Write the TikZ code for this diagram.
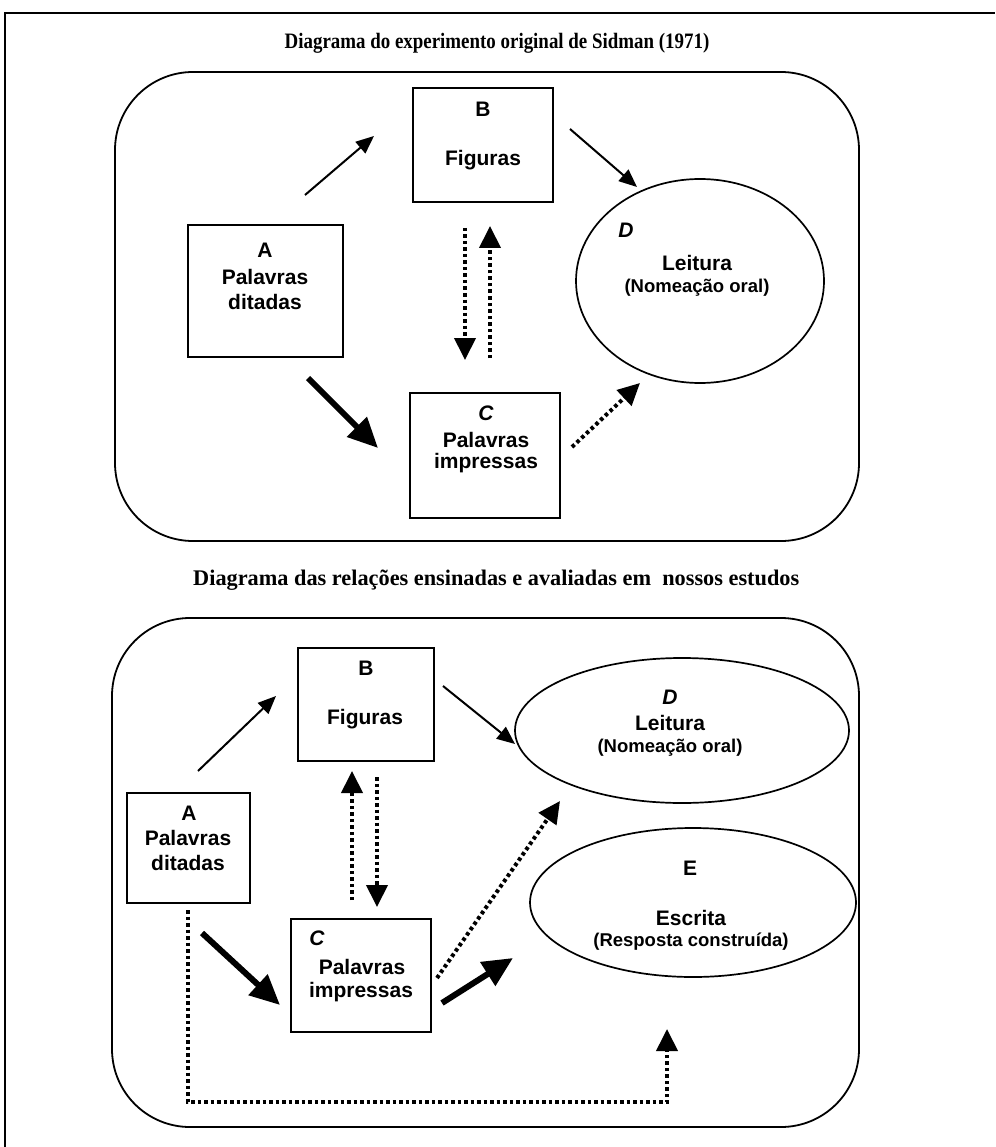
\documentclass[tikz,border=0pt]{standalone}
\usepackage{fontspec}
\setmainfont{Liberation Serif}
\setsansfont{Liberation Sans}
\newfontfamily\condserif[FakeStretch=0.86]{Liberation Serif}
\usetikzlibrary{arrows.meta,shapes.geometric}
\begin{document}
\begin{tikzpicture}[x=1pt,y=-1pt,
  frame/.style={line width=1.8pt},
  panel/.style={draw,line width=1.8pt,rounded corners=78pt},
  box/.style={draw,rectangle,line width=1.7pt,inner sep=0pt},
  oval/.style={draw,ellipse,line width=1.7pt,inner sep=0pt},
  lbl/.style={font=\sffamily\bfseries\fontsize{21}{21}\selectfont,inner sep=0pt},
  lbli/.style={font=\sffamily\bfseries\itshape\fontsize{21}{21}\selectfont,inner sep=0pt},
  sml/.style={font=\sffamily\bfseries\fontsize{18.5}{18.5}\selectfont,inner sep=0pt},
  ttla/.style={font=\condserif\bfseries\fontsize{22}{22}\selectfont,inner sep=0pt},
  ttlb/.style={font=\rmfamily\bfseries\fontsize{22.3}{22.3}\selectfont,inner sep=0pt},
  thinarr/.style={line width=2pt,-{Triangle[length=18pt,width=15pt]}},
  thickarr/.style={line width=6pt,-{Triangle[length=30pt,width=27pt]}},
  dotarr/.style={line width=4pt,dash pattern=on 3.5pt off 3pt,-{Triangle[length=22pt,width=21pt]}}
]
\useasboundingbox (0,0) rectangle (995,1147);
% outer frame (only left and top visible)
\draw[frame] (5,1147) -- (5,13) -- (995,13);

% ================= TOP DIAGRAM =================
\node[ttla] (title1) at (497,43) {Diagrama do experimento original de Sidman (1971)};
\draw[panel] (115,72) rectangle (859,541);

\node[box,minimum width=155pt,minimum height=132pt] (A1) at (265.5,291) {};
\node[box,minimum width=140pt,minimum height=114pt] (B1) at (483,145) {};
\node[box,minimum width=150pt,minimum height=125pt] (C1) at (485,455.5) {};
\node[oval,minimum width=248pt,minimum height=204pt] (D1) at (700,281) {};

\node[lbl] (A1a) at (265,250) {A};
\node[lbl] (A1b) at (265,277) {Palavras};
\node[lbl] (A1c) at (265,302) {ditadas};
\node[lbl] (B1a) at (483,109) {B};
\node[lbl] (B1b) at (483,160) {Figuras};
\node[lbli] (C1a) at (486,413) {C};
\node[lbl] (C1b) at (486,440) {Palavras};
\node[lbl] (C1c) at (486,463) {impressas};
\node[lbli] (D1a) at (626,230) {D};
\node[lbl] (D1b) at (697,263) {Leitura};
\node[sml] (D1c) at (697,288) {(Nomeação oral)};

\coordinate (ab1s) at (305,195);  \coordinate (ab1e) at (374,136);
\coordinate (bd1s) at (570,129);  \coordinate (bd1e) at (637,187);
\coordinate (bc1s) at (465,228);  \coordinate (bc1e) at (465,360);
\coordinate (cb1s) at (490,358);  \coordinate (cb1e) at (490,226);
\coordinate (ac1s) at (308,378);  \coordinate (ac1e) at (378,448);
\coordinate (cd1s) at (572,447);  \coordinate (cd1e) at (640,383);

\draw[thinarr] (ab1s) -- (ab1e);
\draw[thinarr] (bd1s) -- (bd1e);
\draw[dotarr] (bc1s) -- (bc1e);
\draw[dotarr] (cb1s) -- (cb1e);
\draw[thickarr] (ac1s) -- (ac1e);
\draw[dotarr] (cd1s) -- (cd1e);

% ================= BOTTOM DIAGRAM =================
\node[ttlb,anchor=west] (title2) at (193,580) {Diagrama das relações ensinadas e avaliadas em\ \ nossos estudos};
\draw[panel] (112,618) rectangle (859,1127);

\node[box,minimum width=123pt,minimum height=110pt] (A2) at (188.5,848) {};
\node[box,minimum width=136pt,minimum height=113pt] (B2) at (366,704.5) {};
\node[box,minimum width=140pt,minimum height=113pt] (C2) at (361,975.5) {};
\node[oval,minimum width=334pt,minimum height=145pt] (D2) at (682,730.5) {};
\node[oval,minimum width=326pt,minimum height=149pt] (E2) at (693,902.5) {};

\node[lbl] (A2a) at (189,813) {A};
\node[lbl] (A2b) at (188,838) {Palavras};
\node[lbl] (A2c) at (188,863) {ditadas};
\node[lbl] (B2a) at (366,668) {B};
\node[lbl] (B2b) at (365,719) {Figuras};
\node[lbli] (C2a) at (317,938) {C};
\node[lbl] (C2b) at (362,967) {Palavras};
\node[lbl] (C2c) at (361,992) {impressas};
\node[lbli] (D2a) at (670,697) {D};
\node[lbl] (D2b) at (670,723) {Leitura};
\node[sml] (D2c) at (670,748) {(Nomeação oral)};
\node[lbl] (E2a) at (690,868) {E};
\node[lbl] (E2b) at (691,918) {Escrita};
\node[sml] (E2c) at (691,942) {(Resposta construída)};

\coordinate (ab2s) at (198,771);  \coordinate (ab2e) at (276,696);
\coordinate (bd2s) at (443,686);  \coordinate (bd2e) at (515,744);
\coordinate (cb2s) at (352,900);  \coordinate (cb2e) at (352,771);
\coordinate (bc2s) at (377,777);  \coordinate (bc2e) at (377,907);
\coordinate (ac2s) at (202,933);  \coordinate (ac2e) at (280,1005);
\coordinate (cd2s) at (437,978);  \coordinate (cd2e) at (560,801);
\coordinate (ce2s) at (442,1003); \coordinate (ce2e) at (513,958);
\coordinate (ae2s) at (188,910);  \coordinate (ae2c) at (188,1102);
\coordinate (ae2d) at (667,1102); \coordinate (ae2e) at (667,1029);

\draw[thinarr] (ab2s) -- (ab2e);
\draw[thinarr] (bd2s) -- (bd2e);
\draw[dotarr] (cb2s) -- (cb2e);
\draw[dotarr] (bc2s) -- (bc2e);
\draw[thickarr] (ac2s) -- (ac2e);
\draw[dotarr] (cd2s) -- (cd2e);
\draw[thickarr] (ce2s) -- (ce2e);
\draw[dotarr] (ae2s) -- (ae2c) -- (ae2d) -- (ae2e);
\end{tikzpicture}
\end{document}
